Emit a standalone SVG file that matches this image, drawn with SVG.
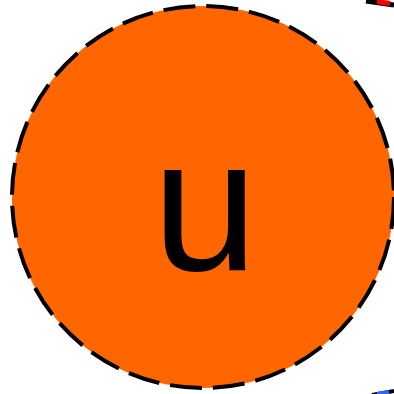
<svg xmlns="http://www.w3.org/2000/svg" width="394" height="394" viewBox="0 0 394 394">
<style>
.node{fill:#ff6600;stroke:#000;stroke-width:4;stroke-dasharray:32 11}
.lbl{font-family:"Liberation Sans",Arial,sans-serif;font-size:190px;fill:#000;text-anchor:middle}
</style>
<g id="connectors">
<line x1="366" y1="1" x2="394" y2="5" stroke="#000" stroke-width="5"/>
<line x1="377" y1="1.5" x2="390" y2="3.5" stroke="#ff0000" stroke-width="5"/>
<line x1="372" y1="395" x2="394" y2="391" stroke="#000" stroke-width="4"/>
<line x1="377" y1="394" x2="389" y2="392" stroke="#3366ff" stroke-width="4"/>
</g>
<g id="node-u">
<circle class="node" cx="203" cy="197" r="191"/>
<text class="lbl" x="205" y="270">u</text>
</g>
</svg>
